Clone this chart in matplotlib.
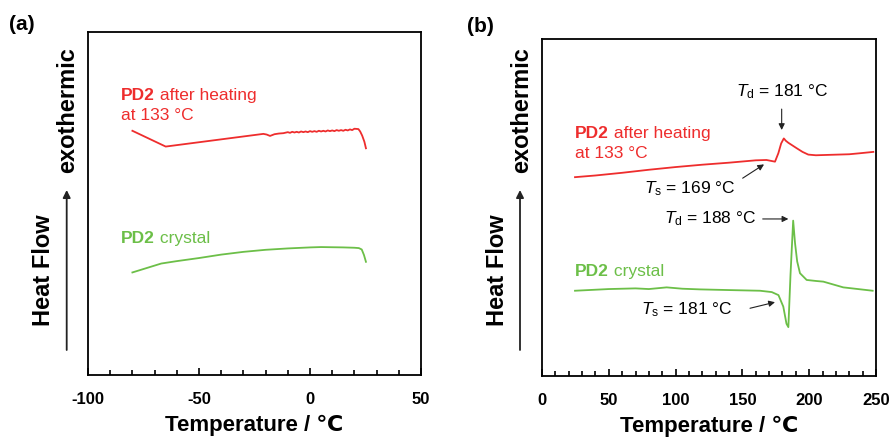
import matplotlib
matplotlib.use("Agg")
import matplotlib.pyplot as plt
from matplotlib.ticker import MultipleLocator

plt.rcParams['font.family'] = ['Liberation Sans', 'DejaVu Sans']
plt.rcParams['mathtext.fontset'] = 'custom'
plt.rcParams['mathtext.rm'] = 'Liberation Sans'
plt.rcParams['mathtext.it'] = 'Liberation Sans:italic'
plt.rcParams['axes.unicode_minus'] = False

RED = '#ee2d2d'
GREEN = '#6cbf48'

# ---- (a) low-temperature scan ----
a_heated_T = [-80, -65, -21, -19.5, -18, -16, -14, -12,
              -10, -9, -8, -7, -6, -5, -4, -3, -2, -1, 0, 1, 2, 3, 4, 5, 6, 7, 8, 9, 10,
              11, 12, 13, 14, 15, 16, 17, 18, 19, 20, 21.8, 22.6, 23.5, 24.5, 25.2]
a_heated_hf = [71.2, 66.6, 70.3, 70.1, 69.7, 70.2, 70.4, 70.5,
               70.8, 70.6, 70.9, 70.7, 70.9, 70.7, 71.0, 70.8, 71.0, 70.8, 71.1, 70.9,
               71.1, 70.9, 71.2, 71.0, 71.2, 71.0, 71.3, 71.1, 71.3, 71.1, 71.4, 71.2,
               71.4, 71.2, 71.5, 71.3, 71.6, 71.4, 71.8, 71.7, 71.0, 69.8, 68.0, 66.1]

a_crystal_T = [-80, -75, -70, -67, -60, -50, -40, -30, -20, -10, 0, 5, 10, 15,
               20, 22, 23.3, 24.3, 25.2]
a_crystal_hf = [29.9, 30.9, 31.9, 32.5, 33.2, 34.1, 35.1, 35.9, 36.5, 36.9, 37.2,
                37.3, 37.25, 37.2, 37.1, 37.0, 36.6, 35.0, 33.0]

# ---- (b) high-temperature scan ----
b_heated_T = [24.7, 40, 60, 80, 100, 120, 140, 160, 168, 174.4, 176.9, 179, 181,
              182.5, 184.4, 190.6, 195, 199.3, 205, 213.1, 230, 238.0, 248.0]
b_heated_hf = [59.0, 59.5, 60.3, 61.2, 62.0, 62.7, 63.3, 64.0, 64.1, 63.6, 66.1,
               69.0, 70.5, 69.8, 69.2, 67.6, 66.5, 65.7, 65.5, 65.6, 65.8, 66.1, 66.5]

b_crystal_T = [24.7, 50, 70, 80, 93.3, 105, 118.3, 140, 163.2, 172, 177, 180.6, 183,
               184.4, 186, 188, 189.4, 191, 193.1, 198.1, 205, 210.6, 225.5, 247.5]
b_crystal_hf = [25.3, 25.8, 26.0, 25.8, 26.3, 25.9, 25.7, 25.5, 25.3, 24.9, 24.0,
                20.6, 15.5, 14.5, 30.0, 46.1, 39.4, 34.0, 30.5, 28.5, 28.2, 28.0,
                26.3, 25.3]

a_ticks = [-100, -50, 0, 50]
b_ticks = [0, 50, 100, 150, 200, 250]

W, H = 893, 440
fig = plt.figure(figsize=(W / 100, H / 100), dpi=100)


def px(x, y):
    return (x / W, 1 - y / H)


ax_a = fig.add_axes([88 / W, 1 - 375 / H, 333 / W, 343 / H])
ax_b = fig.add_axes([542 / W, 1 - 376 / H, 334 / W, 337 / H])

for ax, ticks in ((ax_a, a_ticks), (ax_b, b_ticks)):
    for s in ax.spines.values():
        s.set_linewidth(1.3)
    ax.set_xlim(ticks[0], ticks[-1])
    ax.set_ylim(0, 100)
    ax.set_xticks(ticks)
    ax.xaxis.set_minor_locator(MultipleLocator(10))
    ax.tick_params(axis='x', which='both', direction='in', width=1.2,
                   labelsize=12, pad=12)
    ax.tick_params(axis='x', which='major', length=5)
    ax.tick_params(axis='x', which='minor', length=3.5)
    ax.set_yticks([])
    for lab in ax.get_xticklabels():
        lab.set_fontweight('bold')
    ax.set_xlabel('Temperature / ℃', fontsize=16, fontweight='bold', labelpad=6)

ax_a.plot(a_heated_T, a_heated_hf, color=RED, lw=1.3)
ax_a.plot(a_crystal_T, a_crystal_hf, color=GREEN, lw=1.3)
ax_b.plot(b_heated_T, b_heated_hf, color=RED, lw=1.3)
ax_b.plot(b_crystal_T, b_crystal_hf, color=GREEN, lw=1.3)


def sample_label(ax, x, y, rest, color):
    t = ax.text(x, y, 'PD2', color=color, fontsize=12.5, fontweight='bold',
                ha='left', va='center')
    ax.annotate(rest, xy=(1, 0.5), xycoords=t, va='center', ha='left',
                color=color, fontsize=12.5)


def second_line(ax, x, y, s, color):
    ax.text(x, y, s, color=color, fontsize=12.5, ha='left', va='center')


sample_label(ax_a, -85.3, 81.6, ' after heating', RED)
second_line(ax_a, -85.3, 75.8, 'at 133 °C', RED)
sample_label(ax_a, -85.3, 39.7, ' crystal', GREEN)

sample_label(ax_b, 24.7, 72.1, ' after heating', RED)
second_line(ax_b, 24.7, 66.1, 'at 133 °C', RED)
sample_label(ax_b, 24.7, 30.9, ' crystal', GREEN)

arrow_kw = dict(arrowstyle='-|>', color='#222222', lw=0.8, mutation_scale=9,
                shrinkA=0, shrinkB=0)

ax_b.text(179.4, 84.4, r'$T_\mathrm{d}$ = 181 °C', fontsize=12.5,
          ha='center', va='center')
ax_b.annotate('', xy=(179.4, 73.0), xytext=(179.4, 79.2), arrowprops=arrow_kw)

ax_b.text(110.8, 55.7, r'$T_\mathrm{s}$ = 169 °C', fontsize=12.5,
          ha='center', va='center')
ax_b.annotate('', xy=(166.2, 62.8), xytext=(150.2, 58.7), arrowprops=arrow_kw)

ax_b.text(160.7, 46.8, r'$T_\mathrm{d}$ = 188 °C', fontsize=12.5,
          ha='right', va='center')
ax_b.annotate('', xy=(184.4, 46.6), xytext=(165.2, 46.6), arrowprops=arrow_kw)

ax_b.text(143.0, 19.6, r'$T_\mathrm{s}$ = 181 °C', fontsize=12.5,
          ha='right', va='center')
ax_b.annotate('', xy=(174.4, 21.9), xytext=(155.7, 20.1), arrowprops=arrow_kw)

# y-axis caption with direction arrow
for hx, ex, ax_x in ((43, 68, 66.7), (497, 522, 520)):
    fig.text(*px(hx, 270), 'Heat Flow', rotation=90, fontsize=17,
             fontweight='bold', ha='center', va='center')
    fig.text(*px(ex, 110), 'exothermic', rotation=90, fontsize=17,
             fontweight='bold', ha='center', va='center')
    fig.add_artist(matplotlib.patches.FancyArrowPatch(
        px(ax_x, 350), px(ax_x, 190), transform=fig.transFigure,
        arrowstyle='-|>', mutation_scale=11, lw=1.3, color='#222222',
        shrinkA=0, shrinkB=0))

fig.text(*px(22, 25), '(a)', fontsize=15, fontweight='bold',
         ha='center', va='center')
fig.text(*px(480, 26), '(b)', fontsize=15, fontweight='bold',
         ha='center', va='center')

fig.savefig('out.png', dpi=100)
